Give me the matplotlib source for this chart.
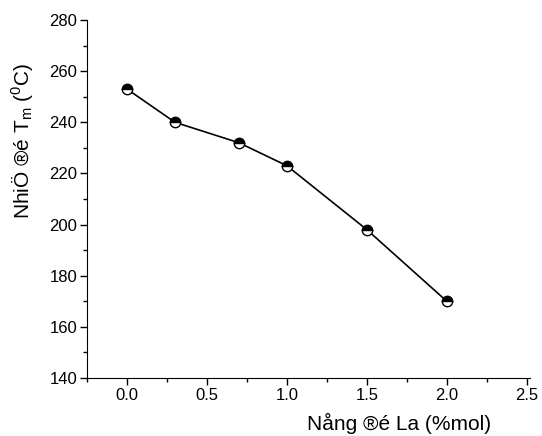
import matplotlib
matplotlib.use("Agg")
import matplotlib.pyplot as plt
from matplotlib.ticker import MultipleLocator

x = [0.0, 0.3, 0.7, 1.0, 1.5, 2.0]
y = [253, 240, 232, 223, 198, 170]
xticks = [0.0, 0.5, 1.0, 1.5, 2.0, 2.5]
xticklabels = ['0.0', '0.5', '1.0', '1.5', '2.0', '2.5']

plt.rcParams['font.family'] = ['Liberation Sans', 'DejaVu Sans']
plt.rcParams['mathtext.fontset'] = 'custom'
plt.rcParams['mathtext.rm'] = 'Liberation Sans'
plt.rcParams['mathtext.it'] = 'Liberation Sans'

fig = plt.figure(figsize=(5.42, 4.36), dpi=100)
ax = fig.add_axes([87/542, 1 - 378/436, (530-87)/542, (378-20)/436])
ax.plot(x, y, color='black', lw=1.2, marker='o', markersize=7.5, fillstyle='top',
        markerfacecolor='black', markerfacecoloralt='white', markeredgecolor='black',
        markeredgewidth=1.0)
ax.set_xlim(-0.25, 2.52)
ax.set_ylim(140, 280)
ax.xaxis.set_major_locator(MultipleLocator(0.5))
ax.xaxis.set_minor_locator(MultipleLocator(0.25))
ax.yaxis.set_major_locator(MultipleLocator(20))
ax.yaxis.set_minor_locator(MultipleLocator(10))
ax.spines['top'].set_visible(False)
ax.spines['right'].set_visible(False)
ax.tick_params(which='both', direction='out', labelsize=12, width=1)
ax.tick_params(which='major', length=5, pad=2)
ax.tick_params(which='minor', length=3)
ax.set_xticks(xticks)
ax.set_xticklabels(xticklabels)
fig.text(399/542, 1 - 423/436, 'Nång ®é La (%mol)', fontsize=15, ha='center', va='center')
fig.text(22/542, 1 - 141/436, 'NhiÖ ®é T$_\\mathrm{m}$ ($^0$C)', fontsize=15,
         ha='center', va='center', rotation=90)
fig.savefig('out.png', dpi=100)
